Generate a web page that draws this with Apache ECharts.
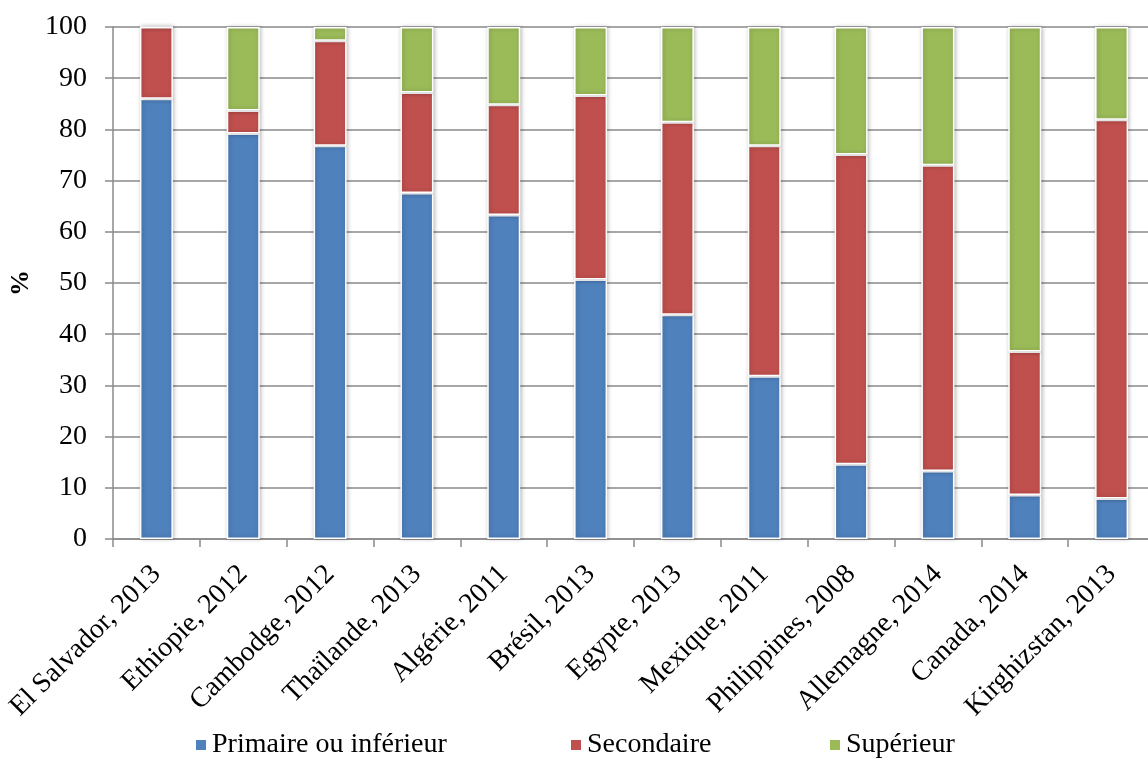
<!DOCTYPE html>
<html>
<head>
<meta charset="utf-8">
<title>Niveau d'instruction</title>
<script src="https://cdn.jsdelivr.net/npm/echarts@6/dist/echarts.min.js"></script>
<style>
  html, body { margin: 0; padding: 0; background: #ffffff; }
  #chart { width: 1148px; height: 758px; }
</style>
</head>
<body>
<div id="chart"></div>
<script>
// Pays et année de l'enquête
const categories = [
  'El Salvador, 2013', 'Ethiopie, 2012', 'Cambodge, 2012', 'Thaïlande, 2013',
  'Algérie, 2011', 'Brésil, 2013', 'Egypte, 2013', 'Mexique, 2011',
  'Philippines, 2008', 'Allemagne, 2014', 'Canada, 2014', 'Kirghizstan, 2013'
];

// Répartition (%) par niveau d'instruction
const primaire   = [86.0, 79.2, 76.8, 67.6, 63.3, 50.7, 43.8, 31.8, 14.6, 13.3, 8.6, 7.9];
const secondaire = [14.0, 4.5, 20.5, 19.6, 21.5, 35.9, 37.6, 45.0, 60.5, 59.7, 28.0, 74.0];
const superieur  = [0.0, 16.3, 2.7, 12.8, 15.2, 13.4, 18.6, 23.2, 24.9, 27.0, 63.4, 18.1];

const yTicks = { min: 0, max: 100, interval: 10 };

const seriesNames = ['Primaire ou inférieur', 'Secondaire', 'Supérieur'];
const seriesColors = ['#4F81BD', '#C0504D', '#9BBB59'];
const seriesData = [primaire, secondaire, superieur];

const FONT = '"Liberation Serif", "DejaVu Serif", serif';
const gridColor = '#8a8a8a';

const chart = echarts.init(document.getElementById('chart'), null, { renderer: 'canvas' });

const legendX = [189, 564, 823];

chart.setOption({
  animation: false,
  backgroundColor: '#ffffff',
  textStyle: { fontFamily: FONT, color: '#000' },
  grid: {
    left: 113, right: -7, top: 27, bottom: 219,
    containLabel: false,
    outerBoundsMode: 'none'
  },
  legend: seriesNames.map((n, i) => ({
    data: [n],
    left: legendX[i],
    top: 726,
    itemWidth: 12,
    itemHeight: 12,
    icon: 'rect',
    textStyle: { fontFamily: FONT, fontSize: 28, color: '#000' }
  })),
  xAxis: {
    type: 'category',
    data: categories,
    axisLine: { show: true, lineStyle: { color: gridColor, width: 1.5 } },
    axisTick: { show: true, length: 8, alignWithLabel: false, lineStyle: { color: gridColor, width: 1.5 } },
    axisLabel: {
      rotate: 45,
      margin: 31,
      fontFamily: FONT,
      fontSize: 28,
      color: '#000',
      interval: 0
    }
  },
  yAxis: {
    type: 'value',
    min: yTicks.min,
    max: yTicks.max,
    interval: yTicks.interval,
    name: '%',
    nameLocation: 'middle',
    nameRotate: 90,
    nameGap: 76,
    nameTextStyle: { fontFamily: FONT, fontSize: 26, fontWeight: 'bold', color: '#000' },
    axisLine: { show: true, lineStyle: { color: gridColor, width: 1.5 } },
    axisTick: { show: true, length: 8, lineStyle: { color: gridColor, width: 1.5 } },
    axisLabel: { margin: 26, fontFamily: FONT, fontSize: 28, color: '#000' },
    splitLine: { show: true, lineStyle: { color: gridColor, width: 1.5 } }
  },
  series: seriesNames.map((n, i) => ({
    name: n,
    type: 'bar',
    stack: 'total',
    barWidth: 33,
    data: seriesData[i],
    itemStyle: {
      color: seriesColors[i],
      borderColor: '#ffffff',
      borderWidth: 1.5,
      shadowBlur: 4,
      shadowColor: 'rgba(0,0,0,0.25)',
      shadowOffsetX: 1
    }
  }))
});
</script>
</body>
</html>
